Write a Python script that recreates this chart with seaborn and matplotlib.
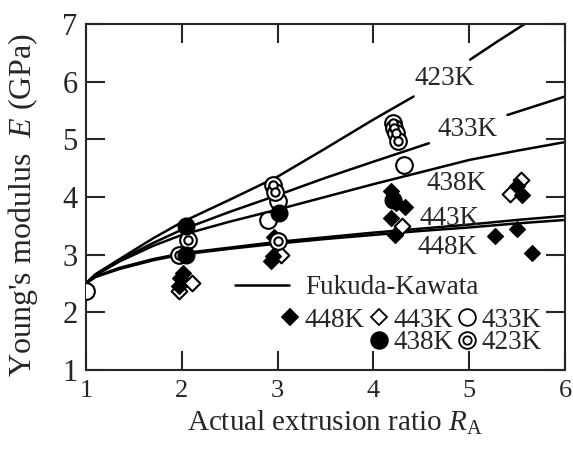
import numpy as np
import pandas as pd
import matplotlib
matplotlib.use("Agg")
import matplotlib.pyplot as plt
from matplotlib.lines import Line2D
import seaborn as sns

# Fukuda-Kawata curves (nan = gap behind the curve label)
R_423 = [1.0, 1.1, 1.35, 1.7, 2.0, 2.5, 3.0, 3.5, 4.0, 4.42, np.nan, 5.01, 5.3, 5.6]
E_423 = [2.5, 2.66, 2.92, 3.28, 3.56, 3.95, 4.35, 4.84, 5.34, 5.74, np.nan, 6.38, 6.70, 7.02]
R_433 = [1.0, 1.1, 1.35, 1.7, 2.0, 2.5, 3.0, 3.5, 4.0, 4.58, np.nan, 5.4, 6.0]
E_433 = [2.5, 2.65, 2.9, 3.2, 3.43, 3.74, 4.03, 4.33, 4.61, 4.93, np.nan, 5.42, 5.74]
R_fk = [1.0, 1.1, 1.35, 1.7, 2.0, 2.5, 3.0, 3.5, 4.0, 4.5, 5.0, 5.5, 6.0]
E_438 = [2.5, 2.64, 2.88, 3.15, 3.34, 3.57, 3.78, 4.0, 4.22, 4.43, 4.64, 4.8, 4.95]
E_443 = [2.5, 2.62, 2.77, 2.92, 3.02, 3.12, 3.22, 3.3, 3.38, 3.45, 3.52, 3.6, 3.67]
E_448 = [2.5, 2.61, 2.75, 2.9, 3.0, 3.1, 3.19, 3.27, 3.34, 3.41, 3.47, 3.54, 3.6]

# measured points
R_d448 = [2.01, 1.98, 1.97, 2.93, 2.95, 2.96, 4.18, 4.2, 4.24, 4.33, 4.18, 4.23, 5.5, 5.55, 5.27, 5.5, 5.66]
E_d448 = [2.68, 2.6, 2.45, 2.88, 2.98, 3.3, 4.1, 3.95, 3.89, 3.83, 3.64, 3.34, 4.18, 4.03, 3.32, 3.44, 3.03]
R_d443 = [2.11, 1.97, 3.04, 4.3, 5.54, 5.43]
E_d443 = [2.5, 2.36, 3.0, 3.5, 4.3, 4.05]
R_c433 = [1.0, 3.0, 2.9, 4.32]
E_c433 = [2.36, 3.92, 3.6, 4.55]
R_c438 = [2.04, 2.04, 3.01, 4.2]
E_c438 = [3.49, 2.99, 3.72, 3.95]
R_c423 = [2.06, 1.97, 2.95, 2.97, 3.0, 4.2, 4.22, 4.24, 4.26]
E_c423 = [3.25, 3.0, 4.21, 4.09, 3.23, 5.28, 5.2, 5.1, 4.97]

curve_labels = ["423K", "433K", "438K", "443K", "448K"]
label_R = [4.74, 4.98, 4.87, 4.79, 4.77]
label_E = [6.06, 5.16, 4.24, 3.63, 3.12]

sns.set_style("ticks")
plt.rcParams["font.family"] = ["Liberation Serif", "DejaVu Serif"]
plt.rcParams["mathtext.fontset"] = "custom"
plt.rcParams["mathtext.rm"] = "Liberation Serif"
plt.rcParams["mathtext.it"] = "Liberation Serif:italic"


def segments(name, R, E):
    df = pd.DataFrame({"R": R, "E": E})
    df["seg"] = df["E"].isna().cumsum()
    df = df.dropna()
    df["seg"] = name + "_" + df["seg"].astype(str)
    return df


curves = pd.concat([
    segments("423", R_423, E_423),
    segments("433", R_433, E_433),
    segments("438", R_fk, E_438),
    segments("443", R_fk, E_443),
    segments("448", R_fk, E_448),
])

fig = plt.figure(figsize=(5.73, 4.5), dpi=100)
ax = fig.add_axes([0.150, 0.178, 0.836, 0.769])

sns.lineplot(data=curves, x="R", y="E", units="seg", estimator=None, sort=False,
             color="black", linewidth=1.8, ax=ax, zorder=2)

open_kw = dict(color="white", edgecolor="black", linewidth=1.5, zorder=3)
sns.scatterplot(x=R_d443, y=E_d443, marker="D", s=64, ax=ax, **open_kw)
sns.scatterplot(x=R_d448, y=E_d448, marker="D", s=64, color="black", edgecolor="black",
                linewidth=1.0, ax=ax, zorder=3)
sns.scatterplot(x=R_c433, y=E_c433, marker="o", s=144, ax=ax, **open_kw)
sns.scatterplot(x=R_c423, y=E_c423, marker="o", s=144, ax=ax, **open_kw)
sns.scatterplot(x=R_c423, y=E_c423, marker="o", s=36, ax=ax, **open_kw)
sns.scatterplot(x=R_c438, y=E_c438, marker="o", s=144, color="black", edgecolor="black",
                linewidth=1.0, ax=ax, zorder=3)

for lab, r, e in zip(curve_labels, label_R, label_E):
    ax.text(r, e, lab, fontsize=19.5, ha="center", va="center", zorder=4)

ax.set_xlim(1, 6)
ax.set_ylim(1, 7)
ax.set_xticks([1, 2, 3, 4, 5, 6])
ax.set_yticks([1, 2, 3, 4, 5, 6, 7])
ax.tick_params(direction="in", top=True, right=True, length=14, width=1.5)
ax.tick_params(axis="x", labelsize=19, pad=7)
ax.tick_params(axis="y", labelsize=22, pad=6)
for sp in ax.spines.values():
    sp.set_linewidth(1.5)

ax.set_xlabel(r"Actual extrusion ratio $R_{\rm A}$", fontsize=21)
ax.set_ylabel(r"Young's modulus  $E$ (GPa)", fontsize=23)
ax.xaxis.set_label_coords(0.52, -0.113)
ax.yaxis.set_label_coords(-0.096, 0.477)

# legends
fk = Line2D([], [], color="black", linewidth=1.8)
leg1 = ax.legend([fk], ["Fukuda-Kawata"], loc="center left", bbox_to_anchor=(0.311, 0.237),
                 frameon=False, fontsize=19.5, borderpad=0, borderaxespad=0,
                 handlelength=2.0, handletextpad=0.6)
ax.add_artist(leg1)

mk = dict(linestyle="none", markeredgecolor="black", markeredgewidth=1.3)
h448 = Line2D([], [], marker="D", markersize=8, markerfacecolor="black", **mk)
h443 = Line2D([], [], marker="D", markersize=8, markerfacecolor="white", **mk)
h433 = Line2D([], [], marker="o", markersize=12, markerfacecolor="white", **mk)
h438 = Line2D([], [], marker="o", markersize=12, markerfacecolor="black", **mk)
h423a = Line2D([], [], marker="o", markersize=12, markerfacecolor="white", **mk)
h423b = Line2D([], [], marker="o", markersize=6, markerfacecolor="white", **mk)
blank = Line2D([], [], linestyle="none")
ax.legend([h448, blank, h443, h438, h433, (h423a, h423b)],
          ["448K", "", "443K", "438K", "433K", "423K"],
          ncol=3, loc="upper right", bbox_to_anchor=(0.952, 0.18), frameon=False,
          fontsize=19.5, borderpad=0, borderaxespad=0, handlelength=0.8,
          handletextpad=0.15, columnspacing=0.1, labelspacing=-0.08)

fig.savefig("out.png", dpi=100)
